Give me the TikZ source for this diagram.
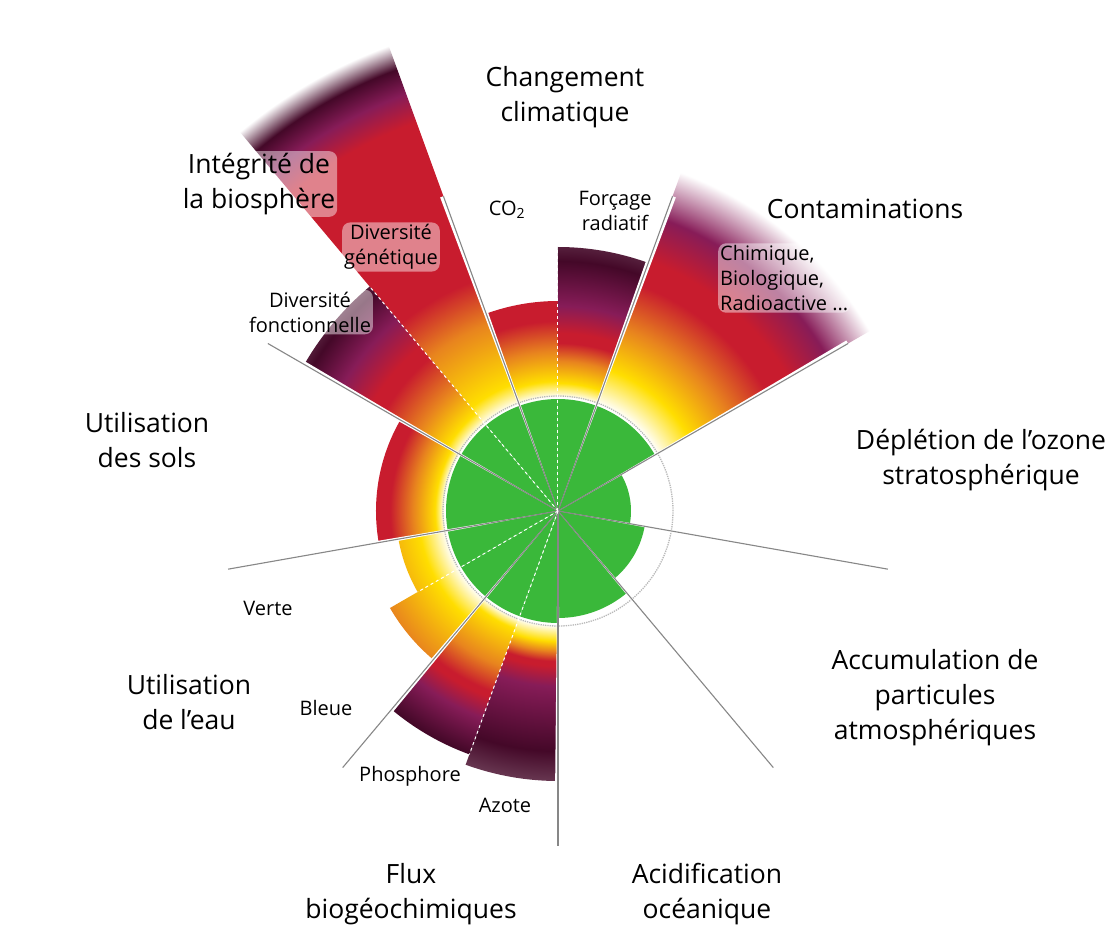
\documentclass[tikz,border=0pt]{standalone}
\usepackage{fontspec}
\setmainfont{Open Sans}

\definecolor{pbgreen}{RGB}{58,184,58}
\definecolor{pbyellow}{RGB}{255,222,0}
\definecolor{pborange}{RGB}{232,132,30}
\definecolor{pbred}{RGB}{200,28,46}
\definecolor{pbpurple}{RGB}{135,28,88}
\definecolor{pbdark}{RGB}{68,8,40}
\definecolor{pbspoke}{RGB}{135,135,135}

% radial gradient of a sector, stops in bp (1bp = 20pt on the drawing)
\newcommand{\pbgrad}[8]{%
  \pgfdeclareradialshading{#1}{\pgfpointorigin}{%
    color(0bp)=(white); color(5.7bp)=(white);
    color(#2bp)=(pbyellow); color(#3bp)=(pborange);
    color(#4bp)=(pbred); color(#5bp)=(pbred);
    color(#6bp)=(pbpurple); color(#7bp)=(pbdark);
    color(#8bp)=(white); color(50bp)=(white)}}

\pbgrad{pbland}{6.15}{7.25}{8.4}{10}{12}{14}{20}
\pbgrad{pbwater}{7}{9.75}{11}{11.5}{13}{14.5}{20}
\pbgrad{pbcarbon}{6.5}{8}{9.5}{11.5}{13}{14.5}{20}
\pbgrad{pbforcing}{6.4}{7.5}{8.4}{8.9}{10.25}{12.5}{20}
\pbgrad{pbphos}{6.25}{8.25}{9.6}{9.9}{11}{12.9}{20}
\pbgrad{pbnitro}{6.5}{7}{7.5}{7.75}{8.75}{12}{20}
\pbgrad{pbgenetic}{6.75}{10}{12.25}{20.7}{22.2}{23.5}{24.75}
\pbgrad{pbfunction}{6.4}{8}{10}{10.75}{12.5}{14.25}{20}
% contaminations fade out without the dark band
\pgfdeclareradialshading{pbnovel}{\pgfpointorigin}{%
  color(0bp)=(white); color(5.7bp)=(white);
  color(7.5bp)=(pbyellow); color(9.7bp)=(pborange);
  color(12bp)=(pbred); color(13.3bp)=(pbred);
  color(15.5bp)=(pbpurple); color(18bp)=(white); color(50bp)=(white)}

% sector from angle #1 to #2, radius #3, gradient #4
\newcommand{\pbsector}[4]{%
  \begin{scope}
    \clip (0,0) -- (#1:#3) arc[start angle=#1, end angle=#2, radius=#3] -- cycle;
    \shade[shading=#4] (0,0) circle[radius=500pt];
    \fill[pbgreen] (0,0) -- (#1:112pt) arc[start angle=#1, end angle=#2, radius=112pt] -- cycle;
  \end{scope}}

\begin{document}
\begin{tikzpicture}[head/.style={font=\fontsize{26.5}{35}\selectfont, align=center},
    sub/.style={font=\fontsize{20}{25}\selectfont, align=center},
    glow/.style={fill=white, fill opacity=0.45, text opacity=1, rounded corners=8pt, inner sep=2pt},
    spoke/.style={draw=pbspoke, line width=1.1pt},
    divider/.style={white, dashed, line width=1pt},
    limit/.style={gray!55, densely dotted, line width=1.3pt}]
    \path[use as bounding box, fill=white] (-558pt,-427pt) rectangle (554pt,511pt);
    \coordinate (O) at (0,0);

    \pbsector{90}{110}{210pt}{pbcarbon}
    \pbsector{70}{90}{264pt}{pbforcing}
    \pbsector{30}{70}{370pt}{pbnovel}
    \pbsector{110}{130}{500pt}{pbgenetic}
    \pbsector{130}{150}{293pt}{pbfunction}
    \pbsector{150}{190}{182pt}{pbland}
    \pbsector{190}{210}{162pt}{pbwater}
    \pbsector{210}{230}{194pt}{pbwater}
    \pbsector{230}{250}{259pt}{pbphos}
    \pbsector{250}{270}{270pt}{pbnitro}

    \fill[pbgreen] (O) -- (-90:107pt) arc[start angle=-90, end angle=-50, radius=107pt] -- cycle;
    \fill[pbgreen] (O) -- (-50:88pt) arc[start angle=-50, end angle=-10, radius=88pt] -- cycle;
    \fill[pbgreen] (O) -- (-10:73pt) arc[start angle=-10, end angle=30, radius=73pt] -- cycle;

    \draw[limit] (O) circle[radius=115pt];

    \foreach \a in {-90,-50,...,230} {
        \fill[white] (O) -- (\a-0.6:335pt) -- (\a+0.6:335pt) -- cycle;
        \coordinate (s\a) at (\a:335pt);
        \draw[spoke] (O) -- (s\a);
    }

    \coordinate (d1) at (90:264pt);
    \coordinate (d2) at (130:293pt);
    \coordinate (d3) at (210:162pt);
    \coordinate (d4) at (250:259pt);
    \draw[divider] (O) -- (d1);
    \draw[divider] (O) -- (d2);
    \draw[divider] (O) -- (d3);
    \draw[divider] (O) -- (d4);

    \node[head] (climat) at (7pt,414pt) {Changement\\climatique};
    \node[head] (contam) at (307pt,302pt) {Contaminations};
    \node[sub, glow, anchor=west, align=left] (entites) at (160pt,233pt) {Chimique,\\Biologique,\\Radioactive ...};
    \node[head] (ozone) at (423pt,51pt) {Déplétion de l’ozone\\stratosphérique};
    \node[head] (aerosol) at (377pt,-187pt) {Accumulation de\\particules\\atmosphériques};
    \node[head] (ocean) at (149pt,-383pt) {Acidification\\océanique};
    \node[head] (flux) at (-147pt,-383pt) {Flux\\biogéochimiques};
    \node[head] (eau) at (-369pt,-191pt) {Utilisation\\de l’eau};
    \node[head] (sols) at (-411pt,71pt) {Utilisation\\des sols};
    \node[head, glow] (biosphere) at (-299pt,327pt) {Intégrité de\\la biosphère};

    \node[sub] (co2) at (-51pt,301pt) {CO\textsubscript{2}};
    \node[sub] (forcage) at (57pt,300pt) {Forçage\\radiatif};
    \node[sub, glow] (genetique) at (-167pt,264pt) {Diversité\\génétique};
    \node[sub, glow] (fonction) at (-248pt,199pt) {Diversité\\fonctionnelle};
    \node[sub] (verte) at (-290pt,-97pt) {Verte};
    \node[sub] (bleue) at (-232pt,-197pt) {Bleue};
    \node[sub] (phos) at (-148pt,-265pt) {Phosphore};
    \node[sub] (azote) at (-53pt,-294pt) {Azote};
\end{tikzpicture}
\end{document}
